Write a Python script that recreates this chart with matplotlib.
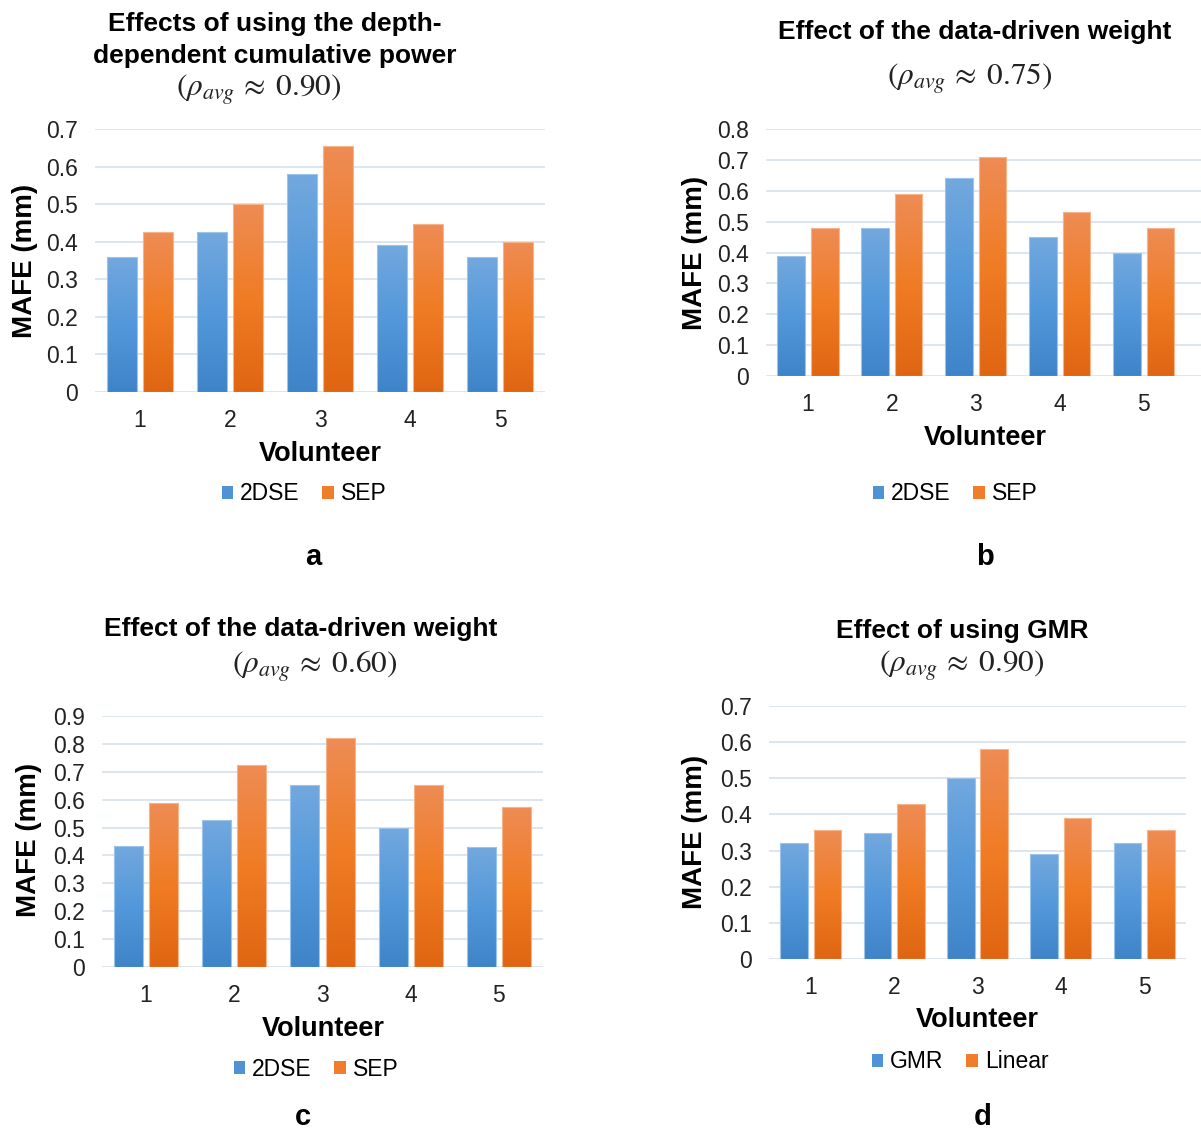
import numpy as np
import matplotlib
matplotlib.use("Agg")
import matplotlib.pyplot as plt
from matplotlib.colors import LinearSegmentedColormap
from matplotlib.patches import Patch

plt.rcParams['font.family'] = ['Liberation Sans', 'DejaVu Sans']
plt.rcParams['mathtext.fontset'] = 'stix'

volunteers = ['1', '2', '3', '4', '5']

# panel a: depth-dependent cumulative power
a_2dse = [0.36, 0.425, 0.58, 0.39, 0.36]
a_sep = [0.425, 0.50, 0.655, 0.447, 0.40]
# panel b: data-driven weight (rho 0.75)
b_2dse = [0.39, 0.48, 0.64, 0.45, 0.40]
b_sep = [0.48, 0.588, 0.708, 0.53, 0.48]
# panel c: data-driven weight (rho 0.60)
c_2dse = [0.435, 0.527, 0.654, 0.498, 0.43]
c_sep = [0.589, 0.723, 0.82, 0.654, 0.575]
# panel d: GMR vs linear
d_gmr = [0.32, 0.348, 0.50, 0.29, 0.32]
d_lin = [0.358, 0.43, 0.582, 0.39, 0.358]

W, H = 1201, 1136
fig = plt.figure(figsize=(W / 100, H / 100), dpi=100)

blue_cmap = LinearSegmentedColormap.from_list('b', ['#3f84c8', '#5398da', '#72a8de'])
orange_cmap = LinearSegmentedColormap.from_list('o', ['#e06512', '#f07c24', '#ee8c55'])
BLUE_SOLID = '#4f93d6'
ORANGE_SOLID = '#ef7d2c'

TITLE_FS = 19
RHO_FS = 22.5
TICK_FS = 16.5
LETTER_FS = 21


def px_axes(x0, x1, y_top, y_bot):
    return fig.add_axes([x0 / W, 1 - y_bot / H, (x1 - x0) / W, (y_bot - y_top) / H])


def gradient_bars(ax, xs, vals, width, cmap, edge):
    bars = ax.bar(xs, vals, width, color='none', edgecolor=edge, linewidth=0.8, zorder=3)
    grad = np.linspace(0, 1, 256).reshape(-1, 1)
    for b in bars:
        x, y = b.get_x(), b.get_y()
        im = ax.imshow(grad, cmap=cmap, origin='lower', aspect='auto',
                       extent=[x, x + b.get_width(), y, y + b.get_height()], zorder=2)
        im.set_clip_path(b)
    return bars


def panel(box, ymax, s1, s2, xmax=4.5):
    ax = px_axes(*box)
    x = np.arange(len(volunteers))
    w, off = 0.33, 0.2
    gradient_bars(ax, x - off, s1, w, blue_cmap, '#9cc3ea')
    gradient_bars(ax, x + off, s2, w, orange_cmap, '#f5b58a')
    ax.set_xlim(-0.5, xmax)
    ax.set_ylim(0, ymax)
    ax.set_yticks(np.round(np.arange(0, ymax + 0.001, 0.1), 1))
    ax.set_yticklabels(['0'] + ['%.1f' % v for v in np.arange(0.1, ymax + 0.001, 0.1)])
    ax.set_xticks(x)
    ax.set_xticklabels(volunteers)
    ax.yaxis.grid(True, color='#dde5ee', linewidth=1.4, zorder=0)
    ax.set_axisbelow(True)
    for s in ax.spines.values():
        s.set_visible(False)
    ax.tick_params(length=0, labelsize=TICK_FS, colors='#222222')
    ax.tick_params(axis='y', pad=12)
    ax.tick_params(axis='x', pad=12)
    return ax


def ftext(x, y, s, **kw):
    fig.text(x / W, 1 - y / H, s, ha='center', va='center', **kw)


def legend(x, y, labels):
    handles = [Patch(facecolor=BLUE_SOLID), Patch(facecolor=ORANGE_SOLID)]
    fig.legend(handles, labels, loc='center', bbox_to_anchor=(x / W, 1 - y / H),
               ncol=2, frameon=False, fontsize=16.5, handlelength=0.5, handleheight=0.5,
               handletextpad=0.3, columnspacing=1.0)


def rho(v):
    return r'$(\rho_{avg}\,\approx\;%s)$' % v


# a
panel((95, 545, 129, 392), 0.7, a_2dse, a_sep)
ftext(275, 24, 'Effects of using the depth-', fontsize=TITLE_FS, fontweight='bold')
ftext(275, 56, 'dependent cumulative power', fontsize=TITLE_FS, fontweight='bold')
ftext(259, 91, rho('0.90'), fontsize=RHO_FS, color='#222222')
ftext(25, 261, 'MAFE (mm)', fontsize=20, fontweight='bold', rotation=90)
ftext(320, 454, 'Volunteer', fontsize=19.5, fontweight='bold')
legend(304, 494, ['2DSE', 'SEP'])
ftext(313, 557, 'a', fontsize=LETTER_FS, fontweight='bold')

# b
panel((766, 1201, 129, 376), 0.8, b_2dse, b_sep, xmax=4.5 + 16 / 87)
ftext(975, 32, 'Effect of the data-driven weight', fontsize=TITLE_FS, fontweight='bold')
ftext(970, 80, rho('0.75'), fontsize=RHO_FS, color='#222222')
ftext(695, 253, 'MAFE (mm)', fontsize=20, fontweight='bold', rotation=90)
ftext(985, 438, 'Volunteer', fontsize=19.5, fontweight='bold')
legend(955, 494, ['2DSE', 'SEP'])
ftext(985, 557, 'b', fontsize=LETTER_FS, fontweight='bold')

# c
panel((102, 543, 716, 967), 0.9, c_2dse, c_sep)
ftext(301, 629, 'Effect of the data-driven weight', fontsize=TITLE_FS, fontweight='bold')
ftext(315, 667, rho('0.60'), fontsize=RHO_FS, color='#222222')
ftext(29, 840, 'MAFE (mm)', fontsize=20, fontweight='bold', rotation=90)
ftext(323, 1029, 'Volunteer', fontsize=19.5, fontweight='bold')
legend(316, 1069, ['2DSE', 'SEP'])
ftext(303, 1117, 'c', fontsize=LETTER_FS, fontweight='bold')

# d
panel((769, 1186, 706, 959), 0.7, d_gmr, d_lin)
ftext(962, 631, 'Effect of using GMR', fontsize=TITLE_FS, fontweight='bold')
ftext(962, 667, rho('0.90'), fontsize=RHO_FS, color='#222222')
ftext(695, 832, 'MAFE (mm)', fontsize=20, fontweight='bold', rotation=90)
ftext(977, 1020, 'Volunteer', fontsize=19.5, fontweight='bold')
legend(960, 1062, ['GMR', 'Linear'])
ftext(983, 1117, 'd', fontsize=LETTER_FS, fontweight='bold')

fig.savefig('out.png', dpi=100, facecolor='white')
